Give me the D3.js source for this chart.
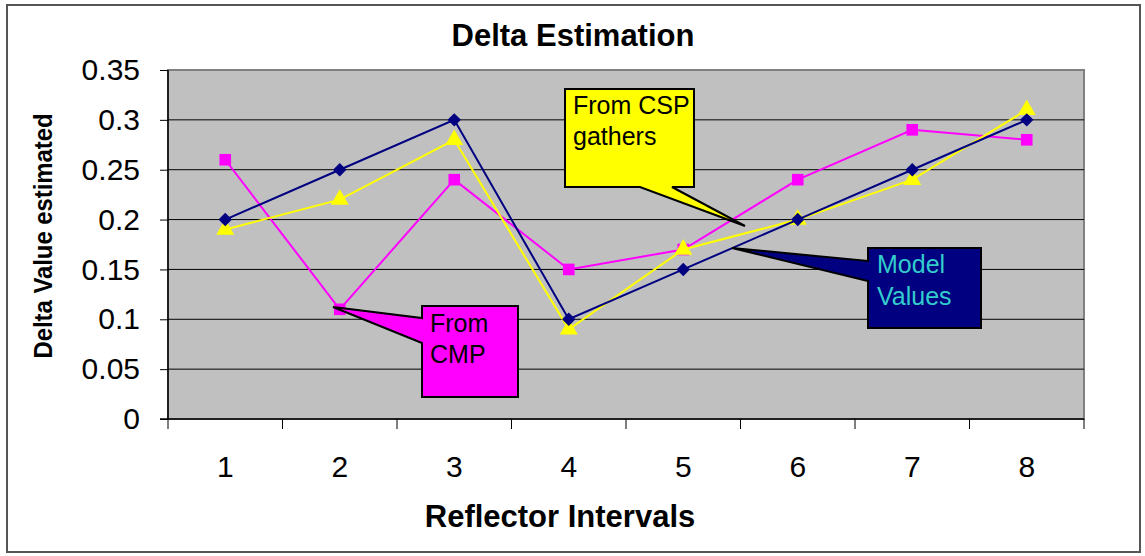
<!DOCTYPE html>
<html>
<head>
<meta charset="utf-8">
<script src="https://cdn.jsdelivr.net/npm/d3@7"></script>
<style>
  body { margin: 0; background: #fff; }
  text { font-family: "Liberation Sans", Arial, sans-serif; }
</style>
</head>
<body>
<div class="Chart"></div>
<script>
// Delta Estimation line chart

let categories = ["1", "2", "3", "4", "5", "6", "7", "8"];
let modelValues = [0.2, 0.25, 0.3, 0.1, 0.15, 0.2, 0.25, 0.3];
let cmpValues = [0.26, 0.11, 0.24, 0.15, 0.17, 0.24, 0.29, 0.28];
let cspValues = [0.19, 0.22, 0.28, 0.09, 0.17, 0.2, 0.24, 0.31];
let yTicks = [0, 0.05, 0.1, 0.15, 0.2, 0.25, 0.3, 0.35];

let svgWidth = 1145;
let svgHeight = 556;

let margin = { top: 70, right: 61, bottom: 137, left: 168 };
let width = svgWidth - margin.left - margin.right;
let height = svgHeight - margin.top - margin.bottom;

let svg = d3.select(".Chart")
  .append("svg")
  .attr("width", svgWidth)
  .attr("height", svgHeight);

// outer frame
svg.append("rect")
  .attr("x", 7).attr("y", 5)
  .attr("width", 1133).attr("height", 547)
  .attr("fill", "#fff")
  .attr("stroke", "#555").attr("stroke-width", 2);

let chart = svg.append("g")
  .attr("transform", `translate(${margin.left}, ${margin.top})`);

let xScale = d3.scaleBand().domain(categories).range([0, width]);
let yScale = d3.scaleLinear().domain([0, 0.35]).range([height, 0]);

// plot background
chart.append("rect")
  .attr("width", width).attr("height", height)
  .attr("fill", "#c0c0c0")
  .attr("stroke", "#808080").attr("stroke-width", 2);

// gridlines
chart.selectAll(".grid")
  .data(yTicks.filter(d => d > 0 && d < 0.35))
  .enter()
  .append("line")
  .attr("x1", 0).attr("x2", width)
  .attr("y1", d => yScale(d)).attr("y2", d => yScale(d))
  .attr("stroke", "#000").attr("stroke-width", 1);

// y axis
let yAxis = d3.axisLeft(yScale).tickValues(yTicks).tickSize(8).tickPadding(20)
  .tickFormat(d => String(+d.toFixed(2)));
let yG = chart.append("g").call(yAxis);
yG.select(".domain").attr("stroke", "#000").attr("stroke-width", 1.5).attr("d", `M0,0V${height}`);
yG.selectAll(".tick line").attr("stroke", "#000");
yG.selectAll("text").attr("font-size", 30).attr("fill", "#000")
  .attr("font-family", "Liberation Sans, Arial, sans-serif");

// x axis with ticks at category boundaries
let xG = chart.append("g").attr("transform", `translate(0, ${height})`);
xG.append("line").attr("x1", -8).attr("x2", width).attr("stroke", "#000").attr("stroke-width", 1.5);
let boundaries = d3.range(categories.length + 1);
xG.selectAll(".xtick")
  .data(boundaries)
  .enter()
  .append("line")
  .attr("x1", d => d * xScale.step()).attr("x2", d => d * xScale.step())
  .attr("y1", 0).attr("y2", 10)
  .attr("stroke", "#000");
xG.selectAll(".xlabel")
  .data(categories)
  .enter()
  .append("text")
  .attr("x", d => xScale(d) + xScale.bandwidth() / 2)
  .attr("y", 58)
  .attr("text-anchor", "middle")
  .attr("font-size", 30)
  .text(d => d);

// titles
svg.append("text")
  .attr("x", 573).attr("y", 46)
  .attr("text-anchor", "middle")
  .attr("font-size", 31).attr("font-weight", "bold")
  .text("Delta Estimation");

svg.append("text")
  .attr("x", 560).attr("y", 527)
  .attr("text-anchor", "middle")
  .attr("font-size", 31).attr("font-weight", "bold")
  .text("Reflector Intervals");

svg.append("text")
  .attr("transform", `translate(52, 236) rotate(-90)`)
  .attr("text-anchor", "middle")
  .attr("font-size", 25).attr("font-weight", "bold")
  .attr("textLength", 245).attr("lengthAdjust", "spacingAndGlyphs")
  .text("Delta Value estimated");

// series
let cx = (d, i) => xScale(categories[i]) + xScale.bandwidth() / 2;
let line = d3.line().x(cx).y(d => yScale(d));

let series = [
  { values: cmpValues, color: "#ff00ff", symbol: d3.symbolSquare, size: 135, rot: 0 },
  { values: cspValues, color: "#ffff00", symbol: d3.symbolTriangle, size: 140, rot: 0 },
  { values: modelValues, color: "#000080", symbol: d3.symbolSquare, size: 90, rot: 45 }
];

series.forEach(s => {
  chart.append("path")
    .datum(s.values)
    .attr("fill", "none")
    .attr("stroke", s.color)
    .attr("stroke-width", 2)
    .attr("d", line);
  chart.selectAll(null)
    .data(s.values)
    .enter()
    .append("path")
    .attr("d", d3.symbol().type(s.symbol).size(s.size))
    .attr("transform", (d, i) => `translate(${cx(d, i)}, ${yScale(d)}) rotate(${s.rot})`)
    .attr("fill", s.color);
});

// callouts (absolute positions)
function callout(pts, fill, lines, textColor, tx, ty, gap) {
  svg.append("path")
    .attr("d", d3.line()(pts) + "Z")
    .attr("fill", fill)
    .attr("stroke", "#000")
    .attr("stroke-width", 2)
    .attr("stroke-linejoin", "miter");
  lines.forEach((t, i) => {
    svg.append("text")
      .attr("x", tx).attr("y", ty + i * gap)
      .attr("font-size", 25)
      .attr("fill", textColor)
      .text(t);
  });
}

// From CMP
callout([[422, 306], [518, 306], [518, 397], [422, 397], [422, 343], [333, 307], [422, 318]],
  "#ff00ff", ["From", "CMP"], "#000", 430, 332, 31);

// From CSP gathers
callout([[565, 89], [694, 89], [694, 187], [672, 187], [745, 226], [640, 187], [565, 187]],
  "#ffff00", ["From CSP", "gathers"], "#000", 573, 114, 31);

// Model Values
callout([[868, 248], [981, 248], [981, 328], [868, 328], [868, 281], [732, 248], [868, 261]],
  "#000080", ["Model", "Values"], "#33cccc", 877, 273, 32);
</script>
</body>
</html>
